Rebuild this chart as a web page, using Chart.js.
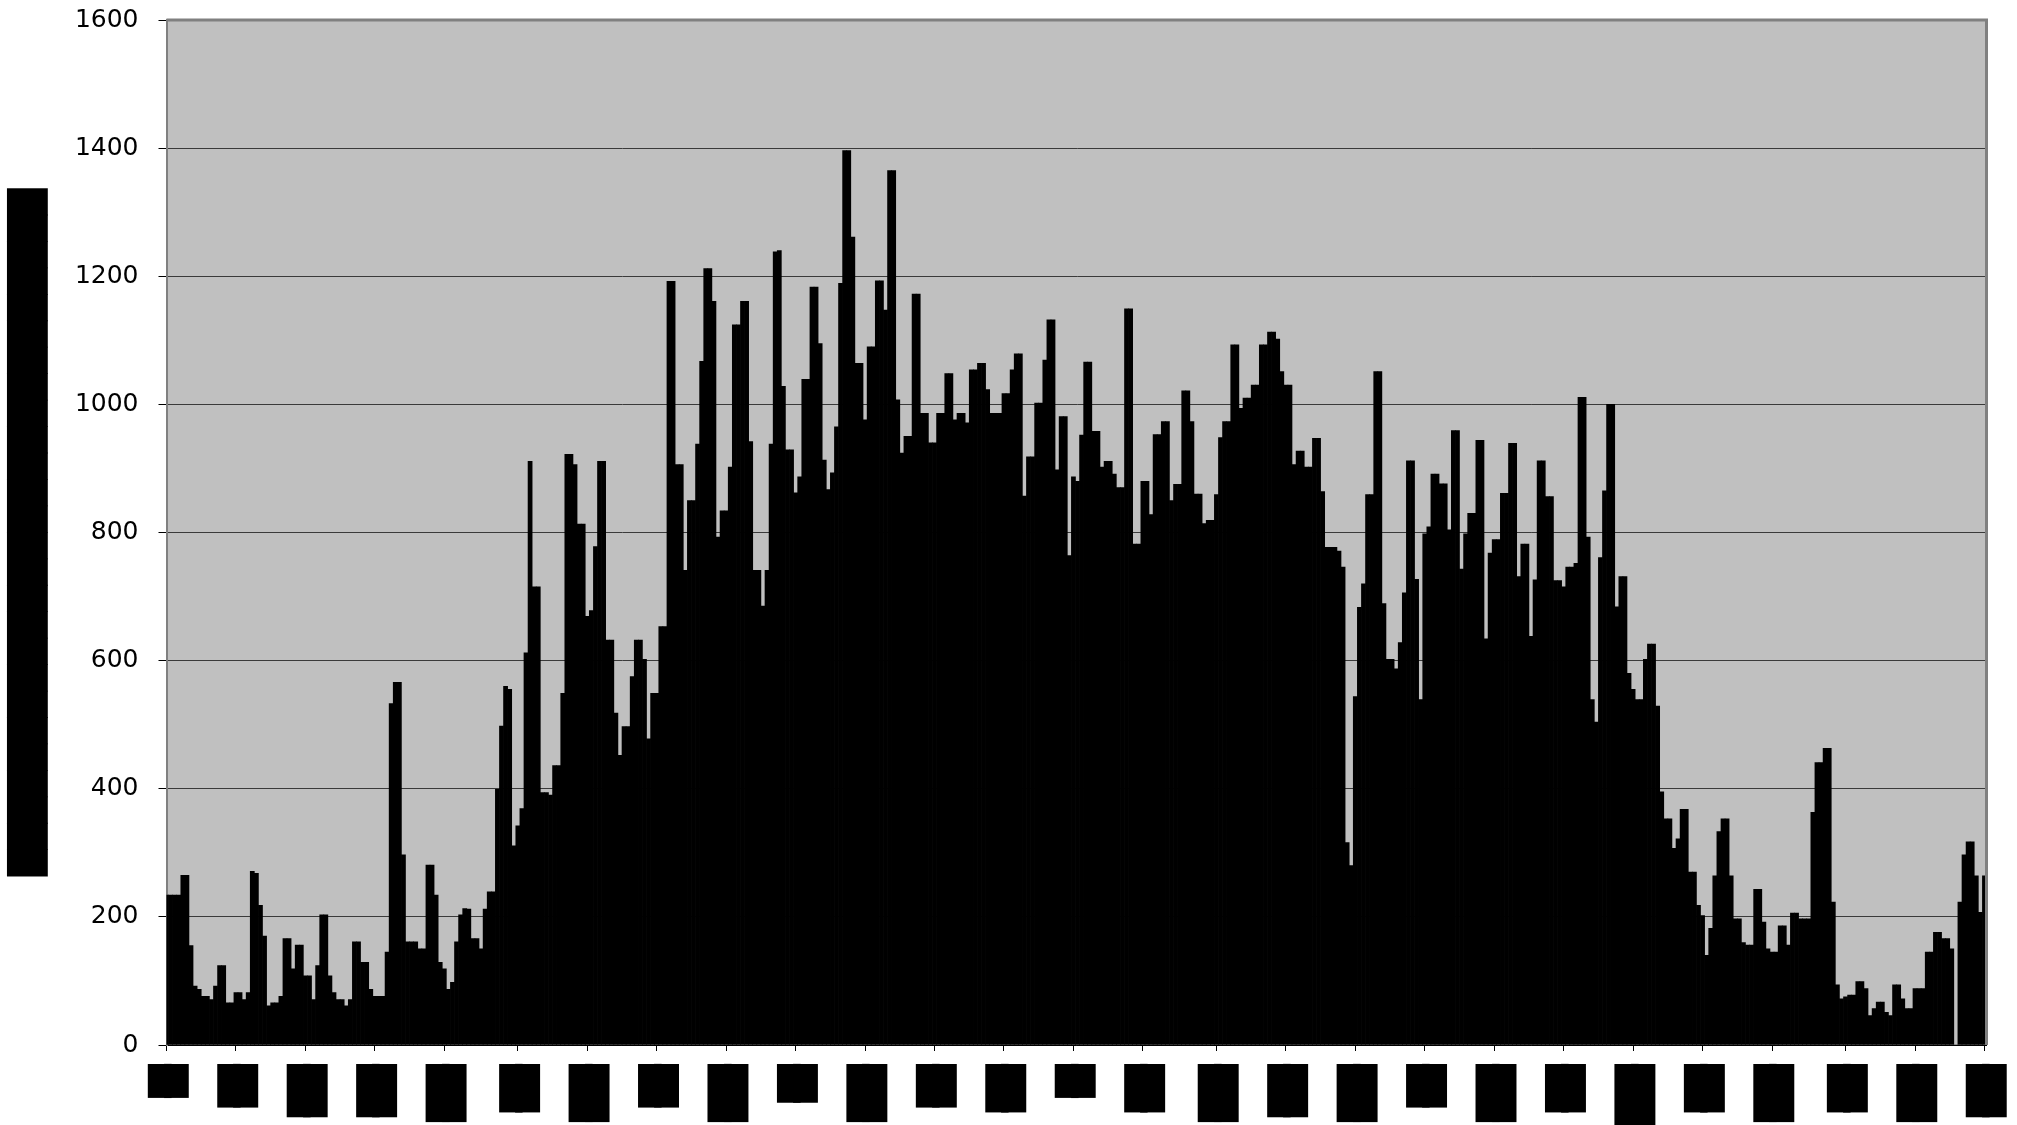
<!DOCTYPE html>
<html>
<head>
<meta charset="utf-8">
<script src="https://cdn.jsdelivr.net/npm/chart.js@4/dist/chart.umd.min.js"></script>
<style>
html,body{margin:0;padding:0;background:#ffffff;}
#wrap{width:2017px;height:1125px;position:relative;}
</style>
</head>
<body>
<div id="wrap"><canvas id="c" width="2017" height="1125"></canvas></div>
<script>
// Daily values, one bar per category index (0..445)
const values = [
234,234,234,234,265,265,155,92,87,76,76,71,92,124,124,66,66,
82,82,71,82,271,268,218,170,61,66,66,76,166,166,119,156,156,
108,108,71,124,203,203,108,82,71,71,61,71,161,161,129,129,87,
76,76,76,145,533,566,566,297,161,161,161,150,150,281,281,234,129,
119,87,98,161,203,213,212,166,166,150,212,239,239,399,498,560,555,311,
342,369,612,911,715,715,394,394,390,436,436,549,922,922,906,813,813,
669,678,778,911,911,632,632,518,452,497,497,575,632,632,602,478,549,
549,653,653,1192,1192,906,906,741,850,850,938,1067,1212,1212,1161,793,834,
834,902,1124,1124,1161,1161,942,741,741,685,741,938,1238,1240,1028,929,929,
862,887,1039,1039,1183,1183,1095,913,867,893,965,1189,1396,1396,1261,1064,1064,
976,1090,1090,1193,1193,1147,1365,1365,1007,924,950,950,1172,1172,986,986,940,
940,986,986,1048,1048,976,986,986,971,1054,1054,1064,1064,1023,986,986,986,
1017,1017,1054,1079,1079,857,918,918,1002,1002,1069,1132,1132,898,981,981,764,
887,880,952,1066,1066,958,958,902,911,911,891,870,870,1149,1149,782,782,
880,880,828,953,953,973,973,850,875,875,1021,1021,973,860,860,814,819,819,
859,948,973,973,1093,1093,994,1010,1010,1030,1030,1093,1093,1113,1113,1102,1051,
1030,1030,906,927,927,902,902,947,947,864,777,777,777,771,746,316,280,
544,683,720,859,859,1051,1051,689,602,602,587,628,706,912,912,727,539,
798,809,891,891,876,876,804,959,959,743,798,830,830,944,944,634,768,
789,789,861,861,939,939,731,782,782,638,726,912,912,856,856,725,725,
715,746,746,752,1011,1011,793,539,504,761,865,1000,1000,684,731,731,580,
555,539,539,602,626,626,529,395,353,353,307,322,368,368,270,270,218,
202,140,182,264,333,353,353,264,197,197,160,156,156,243,243,192,150,
145,145,186,186,156,206,206,197,197,197,363,441,441,463,463,223,94,72,
75,78,78,99,99,88,46,57,67,67,51,46,94,94,72,57,57,
88,88,88,145,145,176,176,166,166,150,0,223,297,317,317,264,207,264
];
const categoryIndex = values.map((_, i) => i);

// Category indices carrying a tick mark and a (redacted) label
const tickPositions = [0,17,34,51,68,86,103,120,137,154,171,188,205,222,239,257,274,291,308,325,342,359,376,393,411,428,445];
// Tick labels appear fully blacked out in the reference
const tickLabels = [
'███████','█████████','███████████','███████████','████████████','██████████',
'████████████','█████████','████████████','████████','████████████','█████████',
'██████████','███████','██████████','████████████','███████████','████████████',
'█████████','████████████','██████████','█████████████','██████████','████████████',
'██████████','████████████','███████████'
];
const yTicks = [0,200,400,600,800,1000,1200,1400,1600];
const yTitle = '██████████████████████████';

const plotFrame = {
  id: 'plotFrame',
  beforeDraw(c) {
    const {ctx, chartArea: a} = c;
    ctx.save();
    ctx.fillStyle = '#C0C0C0';
    ctx.fillRect(a.left, a.top, a.right - a.left, a.bottom - a.top);
    ctx.restore();
  },
  afterDraw(c) {
    const {ctx, chartArea: a} = c;
    ctx.save();
    ctx.strokeStyle = '#808080';
    ctx.lineWidth = 3;
    ctx.beginPath();
    ctx.moveTo(a.left, a.top);
    ctx.lineTo(a.right, a.top);
    ctx.lineTo(a.right, a.bottom);
    ctx.stroke();
    ctx.restore();
  }
};

new Chart(document.getElementById('c'), {
  type: 'bar',
  data: {
    datasets: [{
      data: categoryIndex.map(i => ({x: i, y: values[i]})),
      backgroundColor: '#000000',
      borderWidth: 0,
      barPercentage: 1,
      categoryPercentage: 1
    }]
  },
  options: {
    responsive: false,
    animation: false,
    layout: {padding: {top: 20, right: 30.5, left: 0, bottom: 0}},
    plugins: {legend: {display: false}, tooltip: {enabled: false}},
    scales: {
      x: {
        type: 'linear',
        min: 0,
        max: 445.5,
        offset: false,
        afterBuildTicks: s => { s.ticks = tickPositions.map(v => ({value: v})); },
        afterFit: s => { s.height = 80; },
        grid: {drawOnChartArea: false, drawTicks: true, offset: false, tickLength: 6, tickColor: '#000000', tickWidth: 1},
        border: {display: true, color: '#000000', width: 1},
        ticks: {
          autoSkip: false,
          minRotation: 90,
          maxRotation: 90,
          padding: 13,
          labelOffset: -2,
          color: '#000000',
          font: {family: 'DejaVu Sans', size: 6.3},
          showLabelBackdrop: true,
          backdropColor: '#000000',
          backdropPadding: {top: 16.7, bottom: 16.7, left: 0, right: 0},
          callback: (v, i) => tickLabels[i]
        }
      },
      y: {
        min: 0,
        max: 1600,
        afterBuildTicks: s => { s.ticks = yTicks.map(v => ({value: v})); },
        afterFit: s => { s.width = 166.5; s.paddingTop = 0; s.paddingBottom = 0; },
        grid: {color: '#3a3a3a', lineWidth: 1, tickLength: 8, tickColor: '#000000'},
        border: {display: true, color: '#808080', width: 2},
        ticks: {padding: 20, color: '#000000', font: {family: 'DejaVu Sans', size: 25}, callback: v => String(v)},
        title: {
          display: true,
          text: yTitle,
          color: '#000000',
          font: {family: 'DejaVu Sans', size: 34.4},
          padding: {top: 9.5, bottom: 0}
        }
      }
    }
  },
  plugins: [plotFrame]
});
</script>
</body>
</html>
